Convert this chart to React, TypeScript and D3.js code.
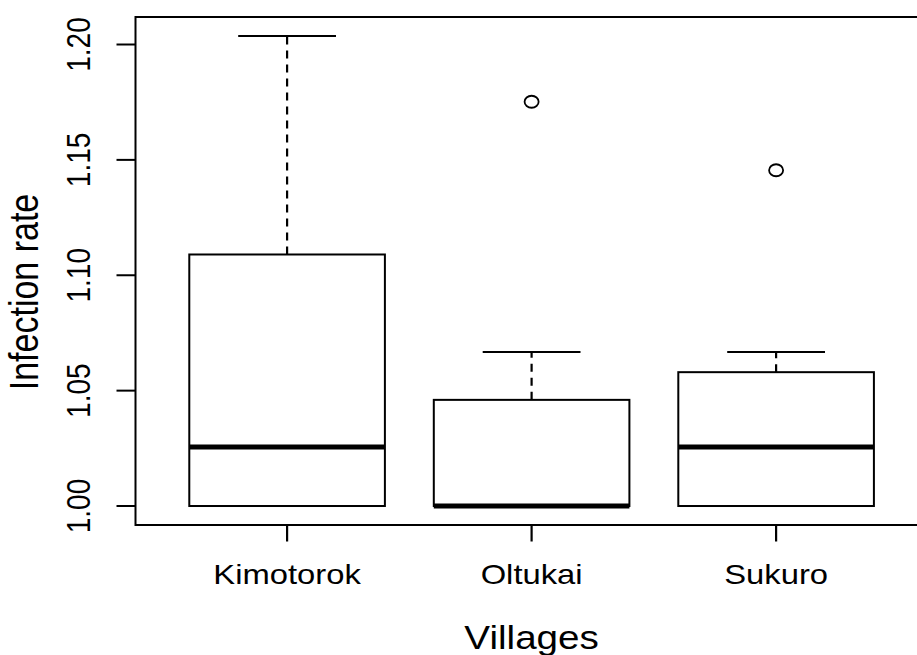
import { useEffect, useRef } from 'react'
import * as d3 from 'd3'

// five-number summaries
const villages = ['Kimotorok', 'Oltukai', 'Sukuro']
const lowerWhisker = [1.0, 1.0, 1.0]
const lowerHinge = [1.0, 1.0, 1.0]
const medians = [1.0256, 1.0, 1.0256]
const upperHinge = [1.109, 1.046, 1.058]
const upperWhisker = [1.2037, 1.0667, 1.0667]
const outliers = [[], [1.1752], [1.1455]]
const yTicks = [1.0, 1.05, 1.1, 1.15, 1.2]

const W = 917
const H = 655
const FONT = '"Liberation Sans", Arial, Helvetica, sans-serif'
// the original png was stretched sideways a bit
const SX = 1.17

export default function App() {
  const svgRef = useRef<SVGSVGElement | null>(null)

  useEffect(() => {
    document.body.style.margin = '0'
    if (!svgRef.current) return
    const svg = d3.select(svgRef.current)
    svg.selectAll('*').remove()

    // plot region (right edge runs past the image like the original)
    const plot = { left: 135.5, right: 927.7, top: 17, bottom: 525 }

    const x = d3.scaleLinear().domain([0.38, 3.62]).range([plot.left, plot.right])
    const y = d3.scaleLinear().domain([0.99177, 1.21192]).range([plot.bottom, plot.top])

    const g = svg.append('g')
    const boxW = 0.8
    const capW = 0.4

    villages.forEach((v, i) => {
      const cx = x(i + 1)
      const bx0 = x(i + 1 - boxW / 2)
      const bx1 = x(i + 1 + boxW / 2)
      const sx0 = x(i + 1 - capW / 2)
      const sx1 = x(i + 1 + capW / 2)

      // whiskers (dashed)
      g.append('line')
        .attr('x1', cx).attr('x2', cx)
        .attr('y1', y(upperHinge[i])).attr('y2', y(upperWhisker[i]))
        .attr('stroke', '#000').attr('stroke-width', 2.2).attr('stroke-dasharray', '8,6')
      g.append('line')
        .attr('x1', cx).attr('x2', cx)
        .attr('y1', y(lowerHinge[i])).attr('y2', y(lowerWhisker[i]))
        .attr('stroke', '#000').attr('stroke-width', 2.2).attr('stroke-dasharray', '8,6')

      // staples
      ;[upperWhisker[i], lowerWhisker[i]].forEach(val => {
        g.append('line')
          .attr('x1', sx0).attr('x2', sx1)
          .attr('y1', y(val)).attr('y2', y(val))
          .attr('stroke', '#000').attr('stroke-width', 2)
      })

      // box
      g.append('rect')
        .attr('x', bx0).attr('y', y(upperHinge[i]))
        .attr('width', bx1 - bx0)
        .attr('height', y(lowerHinge[i]) - y(upperHinge[i]))
        .attr('fill', 'none').attr('stroke', '#000').attr('stroke-width', 2)

      // median
      g.append('line')
        .attr('x1', bx0).attr('x2', bx1)
        .attr('y1', y(medians[i])).attr('y2', y(medians[i]))
        .attr('stroke', '#000').attr('stroke-width', 5)

      // outliers
      outliers[i].forEach(o => {
        g.append('ellipse')
          .attr('cx', cx).attr('cy', y(o)).attr('rx', 6 * SX).attr('ry', 6)
          .attr('fill', 'none').attr('stroke', '#000').attr('stroke-width', 1.8)
      })
    })

    // frame
    svg.append('rect')
      .attr('x', plot.left).attr('y', plot.top)
      .attr('width', plot.right - plot.left).attr('height', plot.bottom - plot.top)
      .attr('fill', 'none').attr('stroke', '#000').attr('stroke-width', 2)

    // y axis ticks + labels
    yTicks.forEach(t => {
      svg.append('line')
        .attr('x1', plot.left - 19).attr('x2', plot.left)
        .attr('y1', y(t)).attr('y2', y(t))
        .attr('stroke', '#000').attr('stroke-width', 2)
      svg.append('text')
        .attr('transform', `translate(90,${y(t)}) scale(${SX},1) rotate(-90)`)
        .attr('text-anchor', 'middle')
        .attr('font-family', FONT).attr('font-size', 28)
        .text(d3.format('.2f')(t))
    })

    // x axis ticks + labels
    villages.forEach((v, i) => {
      svg.append('line')
        .attr('x1', x(i + 1)).attr('x2', x(i + 1))
        .attr('y1', plot.bottom).attr('y2', plot.bottom + 16.5)
        .attr('stroke', '#000').attr('stroke-width', 2.2)
      svg.append('text')
        .attr('transform', `translate(${x(i + 1)},584) scale(${SX},1)`)
        .attr('text-anchor', 'middle')
        .attr('font-family', FONT).attr('font-size', 28)
        .text(v)
    })

    // axis titles
    svg.append('text')
      .attr('transform', `translate(${x(2)},649) scale(${SX},1)`)
      .attr('text-anchor', 'middle')
      .attr('font-family', FONT).attr('font-size', 33)
      .text('Villages')
    svg.append('text')
      .attr('transform', `translate(38,292) scale(${SX},1) rotate(-90)`)
      .attr('text-anchor', 'middle')
      .attr('font-family', FONT).attr('font-size', 34)
      .text('Infection rate')
  }, [])

  return <svg ref={svgRef} width={W} height={H} style={{ display: 'block', background: '#fff' }} />
}
